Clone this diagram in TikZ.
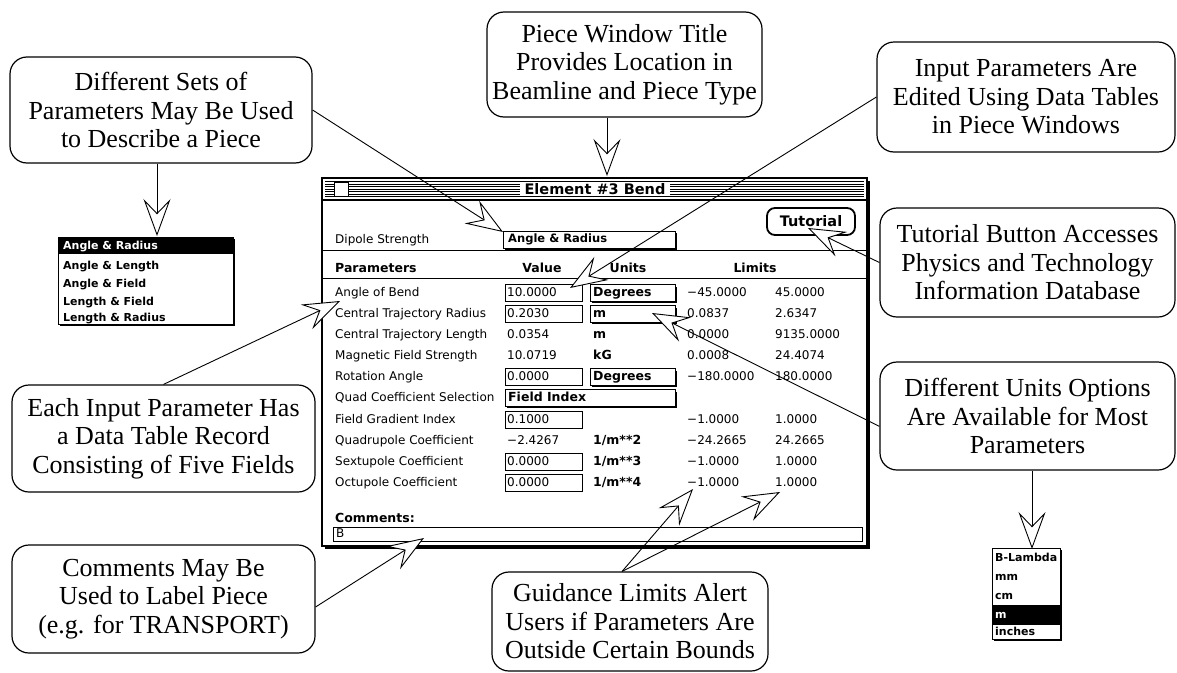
\documentclass[tikz,border=0pt]{standalone}
\usepackage{fontspec}
\setmainfont{Liberation Serif}
\newfontfamily\gen{DejaVu Sans}
\usetikzlibrary{arrows.meta,calc}
\newcommand\fieldbox[4]{%
  \ifnum#4=1 \draw[line width=1.6pt] (#1+2,#3+9.3) -- (#2+1,#3+9.3) -- (#2+1,#3-6.5);\fi
  \draw[line width=0.9pt, fill=white] (#1,#3-8.5) rectangle (#2,#3+8.5);}
\begin{document}
\begin{tikzpicture}[x=1pt,y=-1pt,
  callout/.style={draw, line width=1.2pt, rounded corners=17pt, align=center, inner sep=0pt, font=\fontsize{26}{28.5}\selectfont},
  ptr/.style={line width=0.9pt, -{Stealth[fill=white, length=37pt, width=27pt, inset=14pt, line width=0.9pt]}},
  lab/.style={anchor=west, inner sep=0pt, text height=9pt, text depth=2.5pt, font=\gen\fontsize{12}{12}\selectfont},
  blab/.style={anchor=west, inner sep=0pt, text height=9pt, text depth=2.5pt, font=\gen\bfseries\fontsize{12.5}{13}\selectfont},
  item/.style={anchor=west, inner sep=0pt, text height=8.5pt, text depth=2.5pt, font=\gen\bfseries\fontsize{11}{12}\selectfont},
]
\useasboundingbox (0,0) rectangle (1177,672);

% ---------- window ----------
\draw[line width=2.5pt] (325,548) -- (869.2,548) -- (869.2,181);
\draw[line width=1.3pt, fill=white] (322,178) rectangle (867,546);
\foreach \s in {181.5,184,186.5,189,191.5,194,196.5}
  \draw[line width=0.9pt] (325,\s) -- (864,\s);
\draw[line width=1.2pt] (322,200) -- (867,200);
\draw[line width=1pt, fill=white] (334,182) rectangle (348,196);
\node[fill=white, inner xsep=5pt, inner ysep=1pt, font=\gen\bfseries\fontsize{14.5}{15}\selectfont] (title) at (595,189.5) {Element \#3 Bend};

\draw[line width=1pt] (322,250) -- (867,250);
\draw[line width=1pt] (322,278) -- (867,278);

% dipole row
\node[lab] (dip) at (335,240) {Dipole Strength};
\fieldbox{503}{675}{239.5}{1}
\node[item, font=\gen\bfseries\fontsize{11.5}{12}\selectfont] (dipv) at (508,239.5) {Angle \& Radius};
\node[draw, line width=1.8pt, rounded corners=8pt, minimum width=88pt, minimum height=27pt, inner sep=0pt,
      font=\gen\bfseries\fontsize{14.5}{15}\selectfont] (tut) at (811,221.5) {Tutorial};

% header
\node[blab] (hp) at (335,269) {Parameters};
\node[blab, anchor=center] (hv) at (542,269) {Value};
\node[blab, anchor=center] (hu) at (628,269) {Units};
\node[blab, anchor=center] (hl) at (755,269) {Limits};

% boxes
\foreach \y in {293,314,377,420,462,483} { \fieldbox{505}{582}{\y}{0} }
\foreach \y in {293,314,377} { \fieldbox{590}{675}{\y}{1} }
\fieldbox{505}{675}{398}{1}

% labels
\foreach \t/\y [count=\i] in {Angle of Bend/293, Central Trajectory Radius/314, Central Trajectory Length/335,
  Magnetic Field Strength/356, Rotation Angle/377, Quad Coefficient Selection/398, Field Gradient Index/420,
  Quadrupole Coefficient/441, Sextupole Coefficient/462, Octupole Coefficient/483}
  \node[lab] (p\i) at (335,\y) {\t};

% values
\foreach \v/\y [count=\i] in {10.0000/293, 0.2030/314, 0.0354/335, 10.0719/356, 0.0000/377,
  0.1000/420, −2.4267/441, 0.0000/462, 0.0000/483}
  \node[lab] (v\i) at (507,\y) {\v};
\node[blab] (fi) at (508,398) {Field Index};

% units
\node[blab] (u1) at (593,293) {Degrees};
\node[blab] (u2) at (593,314) {m};
\node[blab] (u3) at (593,335) {m};
\node[blab] (u4) at (593,356) {kG};
\node[blab] (u5) at (593,377) {Degrees};
\node[blab] (u6) at (593,441) {1/m**2};
\node[blab] (u7) at (593,462) {1/m**3};
\node[blab] (u8) at (593,483) {1/m**4};

% limits
\foreach \a/\b/\y [count=\i] in {−45.0000/45.0000/293, 0.0837/2.6347/314, 0.0000/9135.0000/335,
  0.0008/24.4074/356, −180.0000/180.0000/377, −1.0000/1.0000/420, −24.2665/24.2665/441,
  −1.0000/1.0000/462, −1.0000/1.0000/483}
  { \node[lab] (la\i) at (687,\y) {\a}; \node[lab] (lb\i) at (775,\y) {\b}; }

% comments
\node[blab] (cm) at (335,519) {Comments:};
\draw[line width=1pt] (333,527) rectangle (862,541);
\node[lab] (cb) at (336,534) {B};

% ---------- dropdown: parameter sets ----------
\draw[line width=1.8pt] (60,325) -- (234.5,325) -- (234.5,239);
\draw[line width=1pt, fill=white] (58,237) rectangle (233,324);
\fill (58,237) rectangle (233,254);
\node[item, text=white] (s1) at (63,246) {Angle \& Radius};
\node[item] (s2) at (63,266) {Angle \& Length};
\node[item] (s3) at (63,284) {Angle \& Field};
\node[item] (s4) at (63,302) {Length \& Field};
\node[item] (s5) at (63,318) {Length \& Radius};

% ---------- dropdown: units ----------
\draw[line width=1.8pt] (994,640) -- (1061.5,640) -- (1061.5,550);
\draw[line width=1pt, fill=white] (992,548) rectangle (1060,639);
\fill (992,605) rectangle (1060,625);
\node[item] (d1) at (995,558) {B-Lambda};
\node[item] (d2) at (995,577) {mm};
\node[item] (d3) at (995,596) {cm};
\node[item, text=white] (d4) at (995,615) {m};
\node[item] (d5) at (995,632) {inches};

% ---------- callouts ----------
\node[callout, minimum width=302pt, minimum height=106pt] (c1) at (161,110)
  {Different Sets of\\Parameters May Be Used\\to Describe a Piece};
\node[callout, minimum width=275pt, minimum height=105pt] (c2) at (624.5,64.5)
  {Piece Window Title\\Provides Location in\\Beamline and Piece Type};
\node[callout, minimum width=298pt, minimum height=110pt] (c3) at (1026,97)
  {Input Parameters Are\\Edited Using Data Tables\\in Piece Windows};
\node[callout, minimum width=295pt, minimum height=109pt] (c4) at (1027.5,262.5)
  {Tutorial Button Accesses\\Physics and Technology\\Information Database};
\node[callout, minimum width=295pt, minimum height=108pt] (c8) at (1027.5,416)
  {Different Units Options\\Are Available for Most\\Parameters};
\node[callout, minimum width=303pt, minimum height=107pt] (c5) at (163.5,438.5)
  {Each Input Parameter Has\\a Data Table Record\\Consisting of Five Fields};
\node[callout, minimum width=303pt, minimum height=108pt] (c6) at (163.5,599)
  {Comments May Be\\Used to Label Piece\\(e.g. for TRANSPORT)};
\node[callout, minimum width=276pt, minimum height=99pt] (c7) at (630,621.5)
  {Guidance Limits Alert\\Users if Parameters Are\\Outside Certain Bounds};

% ---------- pointer targets ----------
\coordinate (t1a) at (503,232);
\coordinate (t1b) at (157,236);
\coordinate (t2) at (607,176);
\coordinate (t3) at (570,288);
\coordinate (t4) at (808,228);
\coordinate (t5) at (340,301);
\coordinate (t6) at (424,538);
\coordinate (t7a) at (693,489);
\coordinate (t7b) at (780,492);
\coordinate (t8a) at (652,313);
\coordinate (t8b) at (1032,549);

% ---------- pointers ----------
\draw[ptr] (c1.east) -- (t1a);
\draw[ptr] (c1.south -| t1b) -- (t1b);
\draw[ptr] (c2.south -| t2) -- (t2);
\draw[ptr] (c3.west) -- (t3);
\draw[ptr] (c4.west) -- (t4);
\draw[ptr] (c8.184) -- (t8a);
\draw[ptr] (c8.south -| t8b) -- (t8b);
\draw[ptr] (c5.north) -- (t5);
\draw[ptr] (c6.-3) -- (t6);
\draw[ptr] (c7.99) -- (t7a);
\draw[ptr] (c7.99) -- (t7b);
\end{tikzpicture}
\end{document}
